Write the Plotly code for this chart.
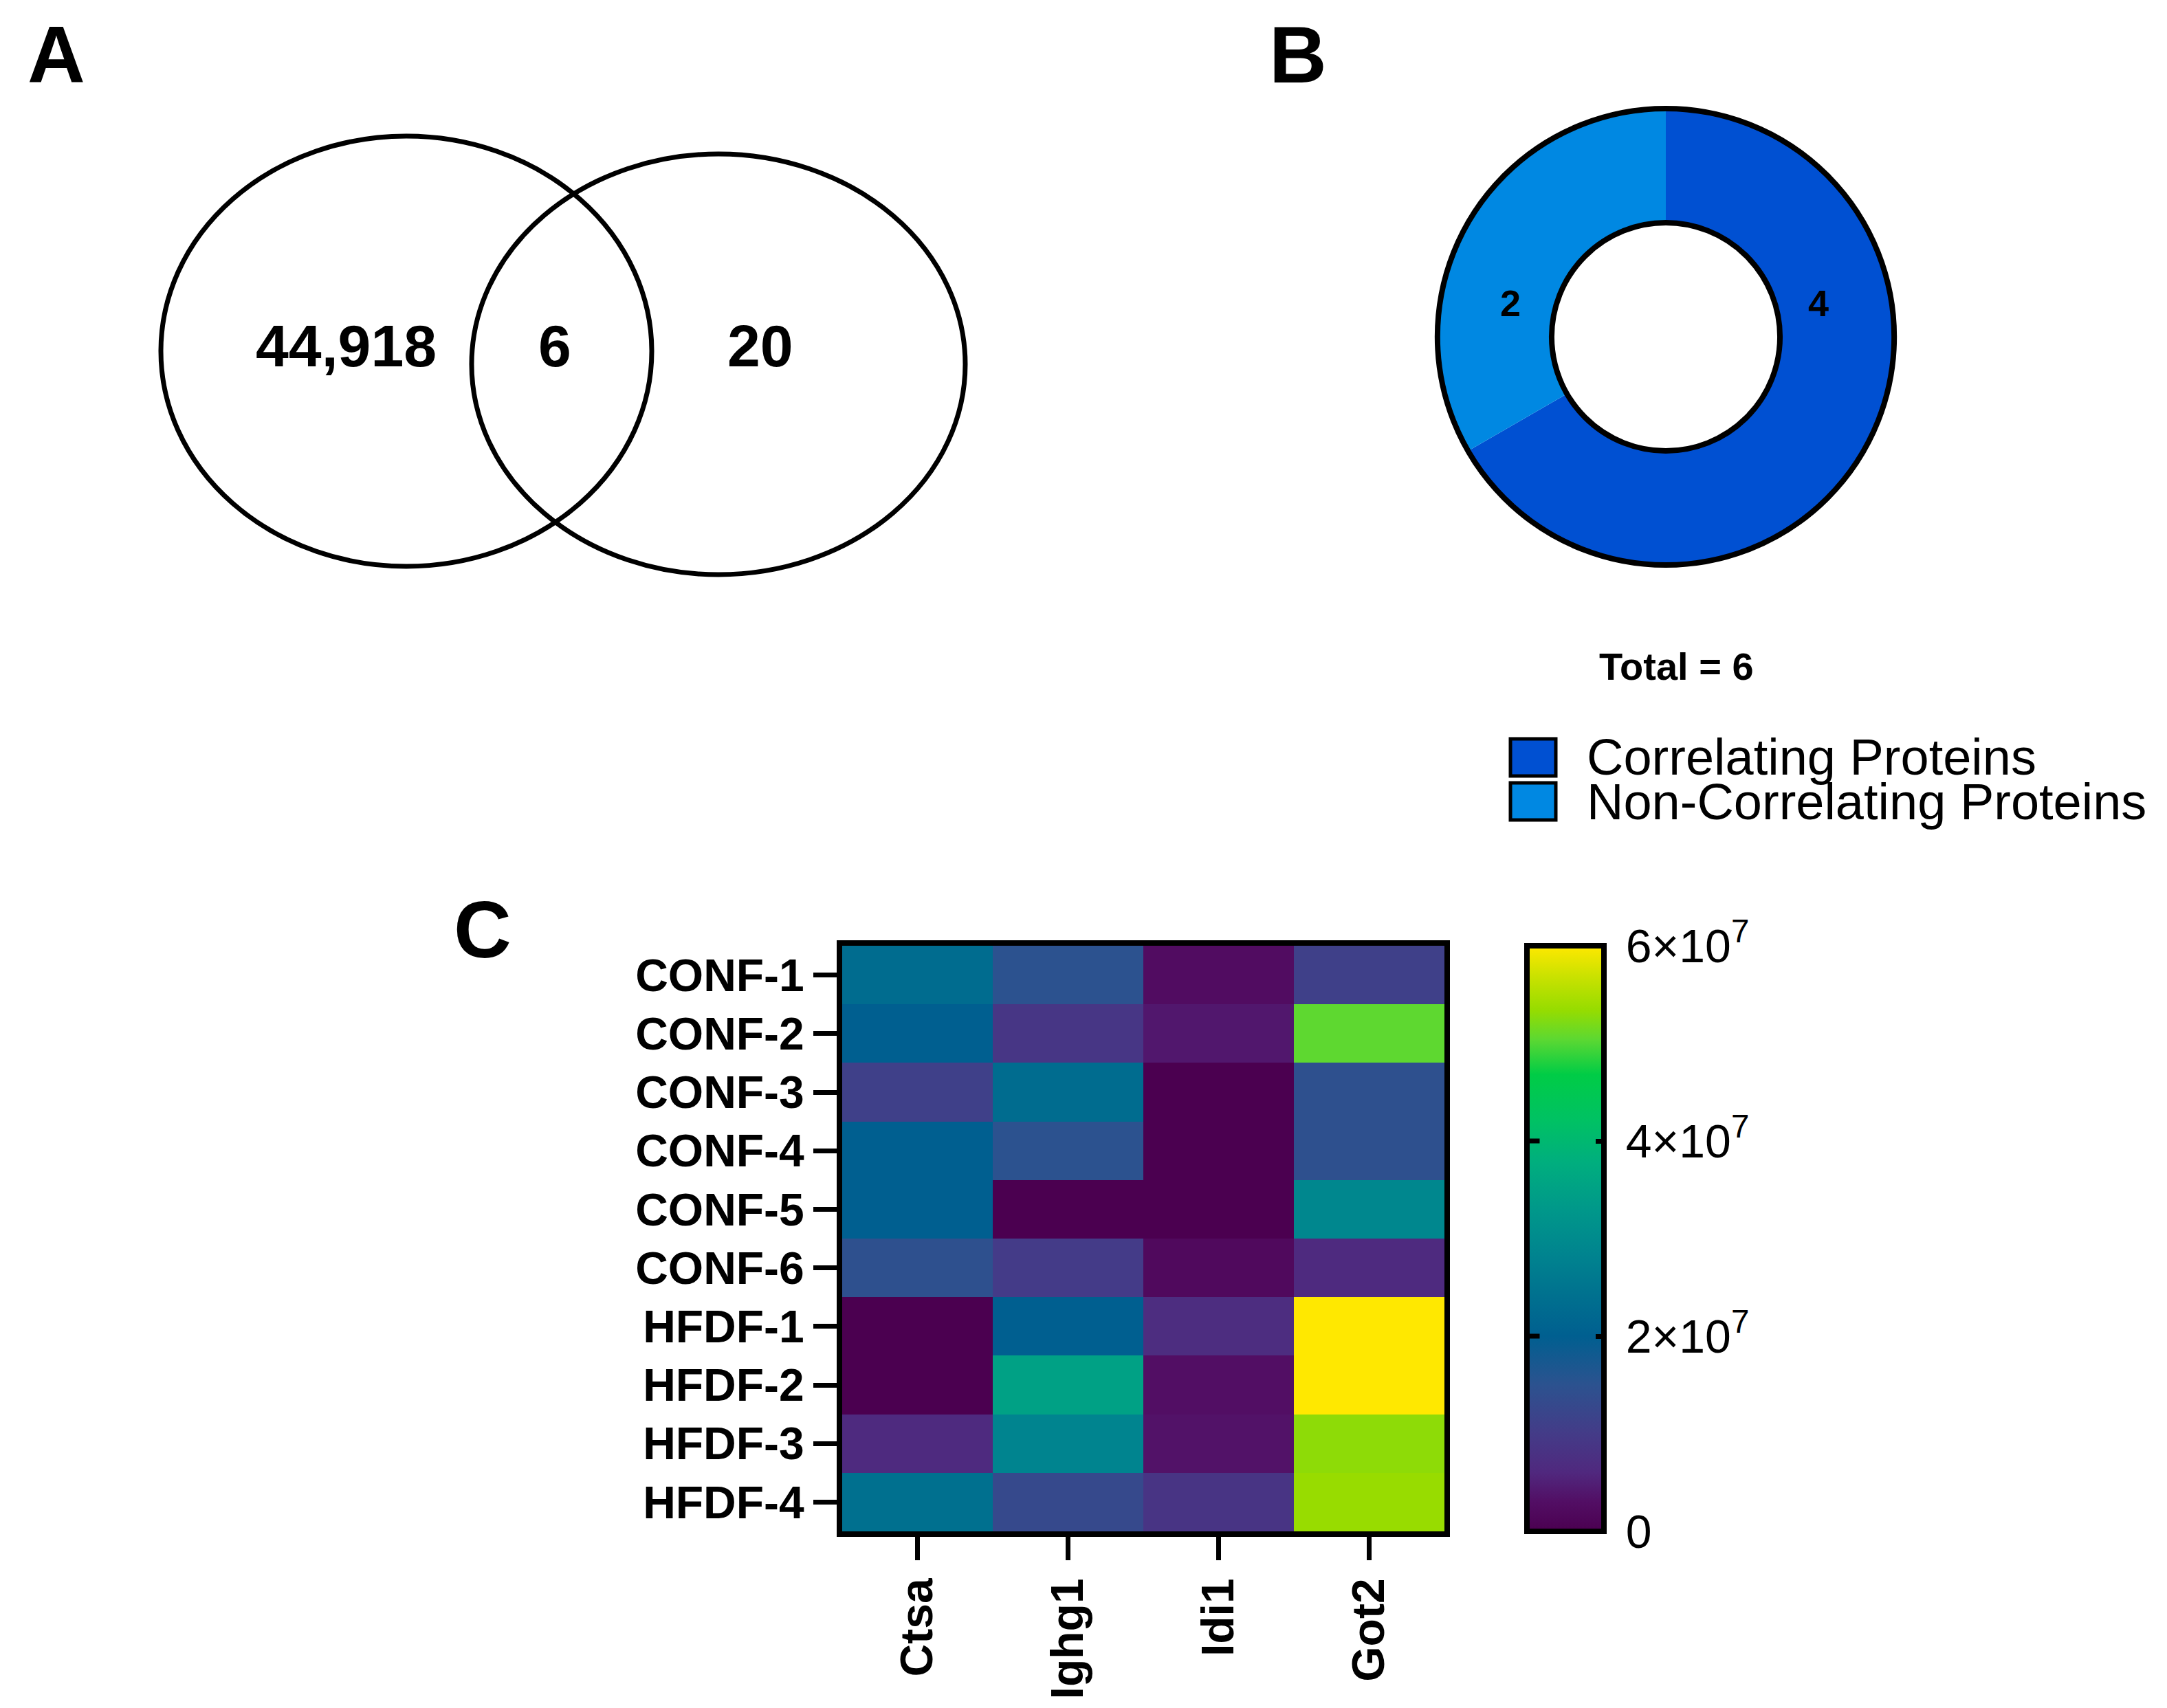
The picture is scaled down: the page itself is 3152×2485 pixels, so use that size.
import plotly.graph_objects as go

W, H = 3152, 2485
FONT = "Liberation Sans, Arial, sans-serif"

# ---------------- data ----------------
venn_counts = [44918, 6, 20]          # left only, overlap, right only

pie_labels = ["Correlating Proteins", "Non-Correlating Proteins"]
pie_values = [4, 2]
pie_colors = ["#0050D2", "#0088E2"]

genes = ["Ctsa", "Ighg1", "Idi1", "Got2"]
samples = ["CONF-1", "CONF-2", "CONF-3", "CONF-4", "CONF-5", "CONF-6",
           "HFDF-1", "HFDF-2", "HFDF-3", "HFDF-4"]
ctsa  = [2.30e7, 2.00e7, 1.10e7, 2.00e7, 2.00e7, 1.45e7, 0.00e7, 0.00e7, 0.65e7, 2.40e7]
ighg1 = [1.50e7, 0.90e7, 2.30e7, 1.50e7, 0.00e7, 1.00e7, 2.00e7, 3.50e7, 2.85e7, 1.30e7]
idi1  = [0.25e7, 0.40e7, 0.00e7, 0.00e7, 0.00e7, 0.20e7, 0.70e7, 0.30e7, 0.35e7, 0.85e7]
got2  = [1.10e7, 5.05e7, 1.45e7, 1.45e7, 2.90e7, 0.65e7, 6.00e7, 6.00e7, 5.30e7, 5.35e7]
cbar_ticks = [0, 2e7, 4e7, 6e7]
cbar_ticktext = ["\u20090", "\u20092×10<sup>7</sup>", "\u20094×10<sup>7</sup>", "\u20096×10<sup>7</sup>"]

z = [[ctsa[i], ighg1[i], idi1[i], got2[i]] for i in range(len(samples))]

colorscale = [
    [0.00, "#4B0050"], [0.05, "#520E64"], [0.10, "#50287E"], [0.17, "#433C88"],
    [0.25, "#2C528F"], [0.333, "#005F90"], [0.40, "#00708F"], [0.47, "#00838F"],
    [0.55, "#00988A"], [0.63, "#00AE7E"], [0.70, "#00C164"], [0.78, "#00CC46"],
    [0.84, "#5CD832"], [0.89, "#96DC00"], [0.95, "#CCE200"], [1.00, "#FFE800"],
]


def px(x):
    return x / W


def py(y):
    return 1 - y / H


fig = go.Figure()

# ---------------- C: heatmap ----------------
hm_x0, hm_x1, hm_y0, hm_y1 = 1217, 2093, 1368, 2220
cb_x0, cb_thick, cb_out = 2213, 112, 8
fig.add_trace(go.Heatmap(
    z=z, x=genes, y=samples, zmin=0, zmax=6e7, colorscale=colorscale,
    xaxis="x", yaxis="y", hoverinfo="skip",
    colorbar=dict(
        x=px(cb_x0), xanchor="left", xpad=0, ypad=0,
        y=py((hm_y0 + hm_y1) / 2), yanchor="middle",
        lenmode="pixels", len=hm_y1 - hm_y0,
        thickness=cb_thick, outlinewidth=cb_out, outlinecolor="black",
        tickvals=cbar_ticks, ticktext=cbar_ticktext,
        ticks="inside", ticklen=16, tickwidth=7, tickcolor="black",
        tickfont=dict(family=FONT, size=68, color="black"),
    ),
))
# mirrored inside ticks on the left side of the colour bar (drawn above it)
for t in cbar_ticks[1:3]:
    yy = hm_y1 - (t / 6e7) * (hm_y1 - hm_y0)
    fig.add_annotation(x=px(cb_x0 + 2), y=py(yy), xref="paper", yref="paper",
                       text="", showarrow=True, arrowhead=0, arrowwidth=7,
                       arrowcolor="black", ax=18, ay=0, standoff=0, startstandoff=0)

axis_common = dict(showline=True, linewidth=8, linecolor="black", mirror=True,
                   ticks="outside", ticklen=34, tickwidth=7, tickcolor="black",
                   showgrid=False, zeroline=False,
                   tickfont=dict(family=FONT, size=66, color="black", weight="bold"))
fig.update_layout(
    xaxis=dict(domain=[px(hm_x0), px(hm_x1)], anchor="y", tickangle=-90, **axis_common),
    yaxis=dict(domain=[py(hm_y1), py(hm_y0)], anchor="x", autorange="reversed", **axis_common),
)

# ---------------- A: Venn ----------------
fig.add_trace(go.Scatter(x=[0], y=[0], xaxis="x2", yaxis="y2", showlegend=False,
                         mode="markers", marker=dict(opacity=0), hoverinfo="skip"))
fig.update_layout(
    xaxis2=dict(domain=[0, px(1500)], range=[0, 1500], visible=False, anchor="y2"),
    yaxis2=dict(domain=[py(900), 1], range=[900, 0], visible=False, anchor="x2"),
)
venn_sets = [(583, 503, 357, 313), (1037, 522, 359, 306)]
for cx, cy, rx, ry in venn_sets:
    fig.add_shape(type="circle", xref="x2", yref="y2",
                  x0=cx - rx, x1=cx + rx, y0=cy - ry, y1=cy + ry,
                  line=dict(color="black", width=7), fillcolor="rgba(0,0,0,0)")
venn_text_x = [495, 799, 1098]
for xv, cnt in zip(venn_text_x, venn_counts):
    fig.add_annotation(x=xv, y=495, xref="x2", yref="y2", text=f"{cnt:,}",
                       showarrow=False, xanchor="center", yanchor="middle",
                       font=dict(family=FONT, size=86, color="black", weight="bold"))

# ---------------- B: donut ----------------
pcx, pcy, pr = 2415, 482, 332
dom = dict(x=[px(pcx - pr), px(pcx + pr)], y=[py(pcy + pr), py(pcy - pr)])
fig.add_trace(go.Pie(
    labels=pie_labels, values=pie_values, hole=0.5, sort=False,
    direction="clockwise", rotation=0, domain=dom,
    marker=dict(colors=pie_colors, line=dict(width=0)),
    textinfo="none", hoverinfo="skip", showlegend=False,
))
fig.add_trace(go.Pie(
    labels=["outline"], values=[sum(pie_values)], hole=0.5, sort=False, domain=dom,
    marker=dict(colors=["rgba(0,0,0,0)"], line=dict(color="black", width=8)),
    textinfo="none", hoverinfo="skip", showlegend=False,
))
for (lx, ly), v in zip([(2637, 433), (2189, 433)], pie_values):
    fig.add_annotation(x=px(lx), y=py(ly), xref="paper", yref="paper", text=str(v),
                       showarrow=False, xanchor="center", yanchor="middle",
                       font=dict(family=FONT, size=54, color="black", weight="bold"))
fig.add_annotation(x=px(2430), y=py(961), xref="paper", yref="paper",
                   text=f"Total = {sum(pie_values)}", showarrow=False,
                   xanchor="center", yanchor="middle",
                   font=dict(family=FONT, size=56, color="black", weight="bold"))

# legend
leg_rows = [(1067, 1121), (1131, 1185)]
for (y0, y1), lab, col in zip(leg_rows, pie_labels, pie_colors):
    fig.add_shape(type="rect", xref="paper", yref="paper",
                  x0=px(2189), x1=px(2255), y0=py(y1), y1=py(y0),
                  fillcolor=col, line=dict(color="black", width=5))
    fig.add_annotation(x=px(2298), y=py((y0 + y1) / 2), xref="paper", yref="paper",
                       text=lab, showarrow=False, xanchor="left", yanchor="middle",
                       font=dict(family=FONT, size=74, color="black"))

# panel letters
for letter, lx, ly in [("A", 74, 72), ("B", 1880, 72), ("C", 694, 1345)]:
    fig.add_annotation(x=px(lx), y=py(ly), xref="paper", yref="paper", text=letter,
                       showarrow=False, xanchor="center", yanchor="middle",
                       font=dict(family=FONT, size=116, color="black", weight="bold"))

fig.update_layout(width=W, height=H, margin=dict(l=0, r=0, t=0, b=0),
                  paper_bgcolor="white", plot_bgcolor="white", showlegend=False)

fig.write_html("out.html")
